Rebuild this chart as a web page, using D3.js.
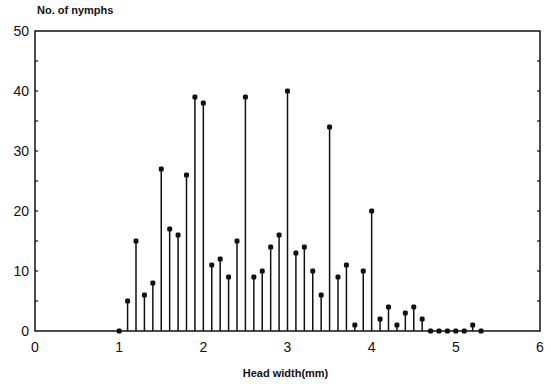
<!DOCTYPE html>
<html>
<head>
<meta charset="utf-8">
<script src="https://cdn.jsdelivr.net/npm/d3@7"></script>
<style>
  body { margin: 0; background: #fff; }
  text { font-family: "Liberation Sans", Arial, sans-serif; fill: #111; }
</style>
</head>
<body>
<div id="chart"></div>
<script>
// head width classes (mm) and nymph counts
const headWidth = [1.0, 1.1, 1.2, 1.3, 1.4, 1.5, 1.6, 1.7, 1.8, 1.9,
  2.0, 2.1, 2.2, 2.3, 2.4, 2.5, 2.6, 2.7, 2.8, 2.9,
  3.0, 3.1, 3.2, 3.3, 3.4, 3.5, 3.6, 3.7, 3.8, 3.9,
  4.0, 4.1, 4.2, 4.3, 4.4, 4.5, 4.6, 4.7, 4.8, 4.9,
  5.0, 5.1, 5.2, 5.3];
const nymphs = [0, 5, 15, 6, 8, 27, 17, 16, 26, 39,
  38, 11, 12, 9, 15, 39, 9, 10, 14, 16,
  40, 13, 14, 10, 6, 34, 9, 11, 1, 10,
  20, 2, 4, 1, 3, 4, 2, 0, 0, 0,
  0, 0, 1, 0];
const xTicks = [0, 1, 2, 3, 4, 5, 6];
const yTicks = [0, 10, 20, 30, 40, 50];

const width = 551, height = 387;
const margin = { top: 31, right: 11, bottom: 56, left: 35 };

const svg = d3.select('#chart').append('svg')
  .attr('width', width)
  .attr('height', height);

const x = d3.scaleLinear().domain([0, 6]).range([margin.left, width - margin.right]);
const y = d3.scaleLinear().domain([0, 50]).range([height - margin.bottom, margin.top]);

const data = headWidth.map((h, i) => ({ h, n: nymphs[i] }));

// frame
svg.append('rect')
  .attr('x', x(0)).attr('y', y(50))
  .attr('width', x(6) - x(0)).attr('height', y(0) - y(50))
  .attr('fill', 'none').attr('stroke', '#111').attr('stroke-width', 1.5);

// inward minor ticks
const yMinor = d3.range(5, 50, 5);
svg.append('g').selectAll('line.yl')
  .data(yMinor).enter().append('line')
  .attr('x1', x(0)).attr('x2', x(0) + 3)
  .attr('y1', d => y(d)).attr('y2', d => y(d))
  .attr('stroke', '#111').attr('stroke-width', 1.2);
svg.append('g').selectAll('line.yr')
  .data(yMinor).enter().append('line')
  .attr('x1', x(6)).attr('x2', x(6) - 3)
  .attr('y1', d => y(d)).attr('y2', d => y(d))
  .attr('stroke', '#111').attr('stroke-width', 1.2);

// tick labels
svg.append('g').selectAll('text')
  .data(yTicks).enter().append('text')
  .attr('x', x(0) - 6).attr('y', d => y(d) + 5)
  .attr('text-anchor', 'end')
  .style('font-size', '14px')
  .text(d => d);

svg.append('g').selectAll('text')
  .data(xTicks).enter().append('text')
  .attr('x', d => x(d)).attr('y', y(0) + 21)
  .attr('text-anchor', 'middle')
  .style('font-size', '14px')
  .text(d => d);

// stems
svg.append('g').selectAll('line')
  .data(data.filter(d => d.n > 0)).enter().append('line')
  .attr('x1', d => x(d.h)).attr('x2', d => x(d.h))
  .attr('y1', y(0)).attr('y2', d => y(d.n))
  .attr('stroke', '#111').attr('stroke-width', 1.5);

// markers
svg.append('g').selectAll('rect')
  .data(data).enter().append('rect')
  .attr('x', d => x(d.h) - 2.5).attr('y', d => y(d.n) - 2.5)
  .attr('width', 5).attr('height', 5)
  .attr('rx', 1.5)
  .attr('fill', '#111');

// titles
svg.append('text')
  .attr('x', 37).attr('y', 14)
  .style('font-size', '11px')
  .style('font-weight', 'bold')
  .text('No. of nymphs');

svg.append('text')
  .attr('x', (x(0) + x(6)) / 2 - 2).attr('y', 377)
  .attr('text-anchor', 'middle')
  .style('font-size', '11px')
  .style('font-weight', 'bold')
  .text('Head width(mm)');
</script>
</body>
</html>
